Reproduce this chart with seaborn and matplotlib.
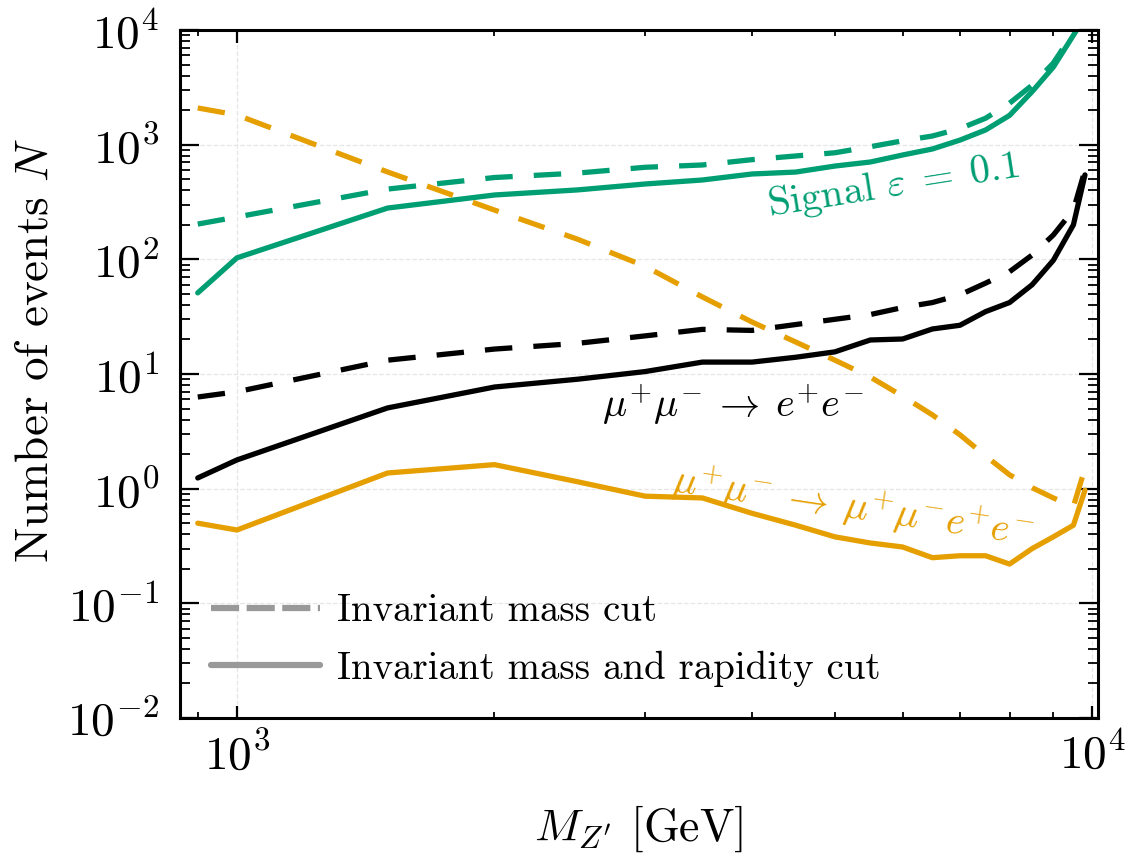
import matplotlib
matplotlib.use("Agg")
import matplotlib.pyplot as plt
from matplotlib.lines import Line2D
from matplotlib.ticker import LogLocator, NullFormatter
import seaborn as sns
import numpy as np
import pandas as pd

# ---------------- data ----------------
mass = [900, 1000, 1500, 2000, 2500, 3000, 3500, 4000, 4500, 5000,
        5500, 6000, 6500, 7000, 7500, 8000, 8500, 9000, 9500, 9800]

signal_mass = [203, 234, 410, 517, 565, 635, 665, 740, 797, 850,
               960, 1080, 1190, 1380, 1700, 2300, 3300, 5150, 9500, 13000]
signal_rap = [51, 103, 280, 364, 403, 454, 492, 555, 577, 651,
              706, 813, 917, 1096, 1343, 1800, 2900, 4750, 9000, 13000]

ee_mass = [6.3, 7.0, 13.2, 16.5, 18.5, 21.5, 24.5, 24.0, 27, 30,
           33, 38, 42, 49, 62, 78, 109, 163, 270, 600]
ee_rap = [1.24, 1.78, 5.06, 7.7, 9.0, 10.5, 12.7, 12.7, 14.0, 15.6,
          19.8, 20.2, 24.7, 26.6, 35, 42, 60, 98, 200, 545]

mmee_mass = [2090, 1815, 578, 269, 150, 87, 47, 28.4, 19, 13.2,
             9.4, 6.4, 4.4, 2.95, 1.93, 1.32, 1.02, 0.83, 0.70, 1.5]
mmee_rap = [0.50, 0.436, 1.37, 1.62, 1.15, 0.86, 0.83, 0.61, 0.48, 0.38,
            0.336, 0.31, 0.25, 0.26, 0.26, 0.22, 0.30, 0.38, 0.48, 0.97]

legend_labels = ["Invariant mass cut", "Invariant mass and rapidity cut"]

GREEN = "#009E73"
ORANGE = "#E69F00"
BLACK = "#000000"

# ---------------- style ----------------
sns.set_theme(style="ticks")
plt.rcParams.update({
    "font.family": ["cmr10", "DejaVu Serif"],
    "mathtext.fontset": "cm",
    "axes.formatter.use_mathtext": True,
    "axes.unicode_minus": True,
    "xtick.direction": "in",
    "ytick.direction": "in",
    "xtick.top": True,
    "ytick.right": True,
    "axes.linewidth": 2.2,
    "axes.edgecolor": "black",
    "text.color": "black",
    "axes.labelcolor": "black",
    "xtick.color": "black",
    "ytick.color": "black",
    "xtick.labelcolor": "black",
    "ytick.labelcolor": "black",
})

fig = plt.figure(figsize=(11.3, 8.58), dpi=100)
ax = fig.add_axes([180 / 1130, 1 - 718 / 858, (1098 - 180) / 1130, (718 - 30) / 858])
ax.set_xscale("log")
ax.set_yscale("log")

LW = 3.8
DASH = (0, (5.2, 4.0))

series = [
    (signal_mass, GREEN, DASH),
    (signal_rap, GREEN, "-"),
    (ee_mass, BLACK, DASH),
    (ee_rap, BLACK, "-"),
    (mmee_mass, ORANGE, DASH),
    (mmee_rap, ORANGE, "-"),
]
for vals, col, ls in series:
    df = pd.DataFrame({"M": mass, "N": vals})
    sns.lineplot(data=df, x="M", y="N", ax=ax, color=col, linewidth=LW,
                 linestyle=ls, sort=False, estimator=None)

ax.set_xlim(858, 10150)
ax.set_ylim(1e-2, 1e4)

ax.xaxis.set_major_locator(LogLocator(base=10, numticks=10))
ax.xaxis.set_minor_locator(LogLocator(base=10, subs=np.arange(2, 10), numticks=20))
ax.xaxis.set_minor_formatter(NullFormatter())
ax.yaxis.set_major_locator(LogLocator(base=10, numticks=20))
ax.yaxis.set_minor_locator(LogLocator(base=10, subs=np.arange(2, 10), numticks=20))
ax.yaxis.set_minor_formatter(NullFormatter())

ax.tick_params(axis="x", which="major", length=9, width=1.6, labelsize=34, pad=10)
ax.tick_params(axis="x", which="minor", length=4, width=1.3)
ax.tick_params(axis="y", which="major", length=14, width=1.6, labelsize=34, pad=15)
ax.tick_params(axis="y", which="minor", length=7, width=1.3)

ax.grid(True, which="major", color="#e6e6e6", linestyle="--", linewidth=0.9)
ax.set_axisbelow(True)

ax.set_xlabel(r"$M_{Z^{\prime}}$ [GeV]", fontsize=33, labelpad=18)
ax.set_ylabel(r"Number of events $N$", fontsize=34)
ax.yaxis.set_label_coords(-0.134, 0.535)

# annotations
ax.text(5850, 440, r"Signal $\varepsilon\;=\;0.1$", color=GREEN, fontsize=29,
        rotation=9, ha="center", va="center", rotation_mode="anchor")
ax.text(3800, 5.4, r"$\mu^{+}\mu^{-}\:\rightarrow\:e^{+}e^{-}$", color=BLACK,
        fontsize=29, ha="center", va="center")
ax.text(5250, 0.70, r"$\mu^{+}\mu^{-}\:\rightarrow\:\mu^{+}\mu^{-}e^{+}e^{-}$",
        color=ORANGE, fontsize=29, rotation=-8.5, ha="center", va="center",
        rotation_mode="anchor")

handles = [
    Line2D([], [], color="#999999", linewidth=4.5, linestyle=(0, (4.5, 1.2))),
    Line2D([], [], color="#999999", linewidth=4.5, linestyle="-"),
]
ax.legend(handles, legend_labels, loc="lower left", frameon=False, fontsize=28,
          handlelength=2.8, handletextpad=0.45, labelspacing=0.55,
          borderaxespad=0.4, bbox_to_anchor=(0.0, 0.0))

fig.savefig("out.png", dpi=100)
